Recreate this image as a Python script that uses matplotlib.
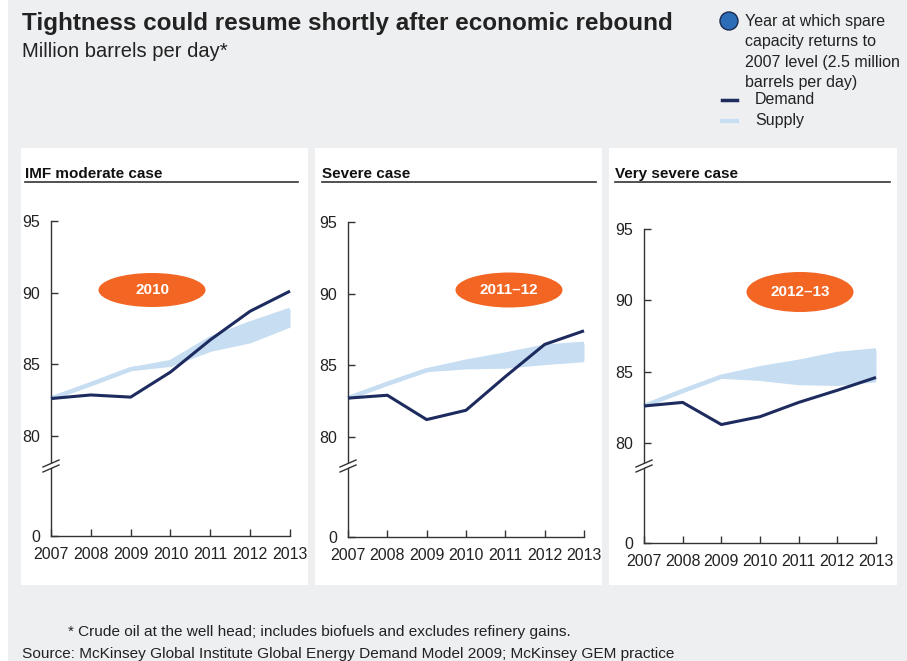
import numpy as np
import matplotlib
matplotlib.use("Agg")
import matplotlib.pyplot as plt
from matplotlib.patches import Rectangle, Ellipse
from matplotlib.lines import Line2D

plt.rcParams["font.family"] = ["Liberation Sans", "DejaVu Sans"]

# ---------------- data ----------------
years = [2007, 2008, 2009, 2010, 2011, 2012, 2013]

imf_demand = [82.6, 82.85, 82.7, 84.45, 86.7, 88.7, 90.1]
imf_supply_low = [82.6, 83.6, 84.65, 84.95, 86.0, 86.6, 87.7]
imf_supply_high = [82.6, 83.6, 84.65, 85.15, 86.8, 87.85, 88.8]

severe_demand = [82.7, 82.9, 81.2, 81.85, 84.2, 86.45, 87.4]
severe_supply_low = [82.7, 83.7, 84.65, 84.85, 84.9, 85.15, 85.35]
severe_supply_high = [82.7, 83.7, 84.65, 85.25, 85.75, 86.3, 86.5]

vsevere_demand = [82.6, 82.85, 81.3, 81.85, 82.85, 83.7, 84.6]
vsevere_supply_low = [82.6, 83.65, 84.65, 84.5, 84.2, 84.15, 84.4]
vsevere_supply_high = [82.6, 83.65, 84.65, 85.25, 85.7, 86.25, 86.5]

case_titles = ["IMF moderate case", "Severe case", "Very severe case"]
recovery_labels = ["2010", "2011\u201312", "2012\u201313"]
y_ticks = [0, 80, 85, 90, 95]

# ---------------- styling ----------------
BG = "#eeeff1"
DEMAND = "#1d2b5e"
SUPPLY = "#c6ddf2"
ORANGE = "#f26522"
DARK = "#333333"
TEXT = "#222222"

W, H = 907, 661
fig = plt.figure(figsize=(W / 100, H / 100), dpi=100)
fig.patch.set_facecolor("white")


def fx(px):
    return px / W


def fy(py):
    return 1 - py / H


# gray page with white panels
fig.patches.append(Rectangle((fx(8), 0), fx(W - 8), 1, transform=fig.transFigure,
                             facecolor=BG, edgecolor="none", zorder=-10))
panels = [(21, 308), (315, 602), (609, 897)]
for left, right in panels:
    fig.patches.append(Rectangle((fx(left), fy(585)), fx(right - left), (585 - 148) / H,
                                 transform=fig.transFigure, facecolor="white",
                                 edgecolor="none", zorder=-5))


# broken y-axis: 0..80 squeezed, 80..95 linear
def fwd(v):
    v = np.asarray(v, dtype=float)
    return np.where(v >= 80, v - 73, v * 7 / 80)


def inv(s):
    s = np.asarray(s, dtype=float)
    return np.where(s >= 7, s + 73, s * 80 / 7)


# axes boxes in pixels: x of 2007, x of 2013, y of 0, y of 95
boxes = [(51, 290, 536, 221), (348, 584, 537, 222), (644, 876, 543, 229)]
underlines = [(25, 298), (322, 596), (615, 890)]
ellipses = [(152, 290, 107, 34), (509, 290, 107, 35), (800, 292, 107, 40)]

cases = [
    (imf_demand, imf_supply_low, imf_supply_high),
    (severe_demand, severe_supply_low, severe_supply_high),
    (vsevere_demand, vsevere_supply_low, vsevere_supply_high),
]

for i, (demand, low, high) in enumerate(cases):
    x0, x1, y0, y1 = boxes[i]
    ax = fig.add_axes([fx(x0), fy(y0), fx(x1 - x0), (y0 - y1) / H])
    ax.set_facecolor("none")
    ax.set_yscale("function", functions=(fwd, inv))
    ax.set_xlim(2007, 2013)
    ax.set_ylim(0, 95)

    ax.fill_between(years, low, high, color=SUPPLY, lw=0, zorder=2, clip_on=False)
    ax.plot(years, low, color=SUPPLY, lw=3, solid_capstyle="butt", zorder=2, clip_on=False)
    ax.plot(years, high, color=SUPPLY, lw=3, solid_capstyle="butt", zorder=2, clip_on=False)
    ax.plot(years, demand, color=DEMAND, lw=2.2, solid_capstyle="butt", zorder=3, clip_on=False)

    ax.set_yticks(y_ticks)
    ax.set_yticklabels([str(t) for t in y_ticks])
    ax.set_xticks(years)
    ax.set_xticklabels([str(y) for y in years])
    ax.yaxis.set_minor_locator(matplotlib.ticker.NullLocator())
    ax.tick_params(axis="both", direction="in", length=5, width=1, color=DARK,
                   labelsize=11.5, labelcolor=TEXT)
    ax.tick_params(axis="y", pad=8)
    ax.tick_params(axis="x", pad=8)
    for side in ("top", "right"):
        ax.spines[side].set_visible(False)
    for side in ("left", "bottom"):
        ax.spines[side].set_color(DARK)
        ax.spines[side].set_linewidth(1)

    # axis break marks
    hpx = y0 - y1
    yb = (y0 - 466) / hpx
    dx = 8 / (x1 - x0)
    dy = 3.5 / hpx
    ax.fill([-dx, dx, dx, -dx],
            [yb - dy - 2 / hpx, yb + dy - 2 / hpx, yb + dy + 2 / hpx, yb - dy + 2 / hpx],
            transform=ax.transAxes, color="white", lw=0, clip_on=False, zorder=4)
    for off in (-2.5, 2.5):
        ax.plot([-dx, dx], [yb - dy + off / hpx, yb + dy + off / hpx],
                transform=ax.transAxes, color=DARK, lw=1, clip_on=False, zorder=5)

    # panel heading with rule
    u0, u1 = underlines[i]
    fig.text(fx(u0), fy(178), case_titles[i], fontsize=11, fontweight="bold",
             color="#111111", va="baseline", ha="left")
    fig.lines.append(Line2D([fx(u0), fx(u1)], [fy(182), fy(182)], transform=fig.transFigure,
                            color=DARK, lw=1.2))

    # recovery year badge
    cx, cy, ew, eh = ellipses[i]
    fig.patches.append(Ellipse((fx(cx), fy(cy)), fx(ew), eh / H, transform=fig.transFigure,
                               facecolor=ORANGE, edgecolor="none", zorder=6))
    fig.text(fx(cx), fy(cy), recovery_labels[i], color="white", fontsize=11,
             fontweight="bold", ha="center", va="center", zorder=7)

# headline
fig.text(fx(22), fy(30), "Tightness could resume shortly after economic rebound",
         fontsize=17.5, fontweight="bold", color=TEXT, va="baseline")
fig.text(fx(22), fy(57), "Million barrels per day*", fontsize=14.5, color=TEXT,
         va="baseline")

# legend
fig.patches.append(Ellipse((fx(729), fy(21)), fx(18), 18 / H, transform=fig.transFigure,
                           facecolor="#2d6db8", edgecolor="#1a2a50", lw=1))
fig.text(fx(745), fy(14), "Year at which spare\ncapacity returns to\n2007 level (2.5 million\nbarrels per day)",
         fontsize=11.5, color=TEXT, va="top", ha="left", linespacing=1.45)
fig.lines.append(Line2D([fx(722), fx(737)], [fy(100), fy(100)], transform=fig.transFigure,
                        color=DEMAND, lw=2.5))
fig.text(fx(755), fy(100), "Demand", fontsize=11.5, color=TEXT, va="center")
fig.lines.append(Line2D([fx(722), fx(737)], [fy(121), fy(121)], transform=fig.transFigure,
                        color=SUPPLY, lw=3))
fig.text(fx(755), fy(121), "Supply", fontsize=11.5, color=TEXT, va="center")

# notes
fig.text(fx(68), fy(632), "* Crude oil at the well head; includes biofuels and excludes refinery gains.",
         fontsize=11.1, color=TEXT, va="center")
fig.text(fx(22), fy(654), "Source: McKinsey Global Institute Global Energy Demand Model 2009; McKinsey GEM practice",
         fontsize=11.1, color=TEXT, va="center")

fig.savefig("out.png", dpi=100, facecolor=fig.get_facecolor())
